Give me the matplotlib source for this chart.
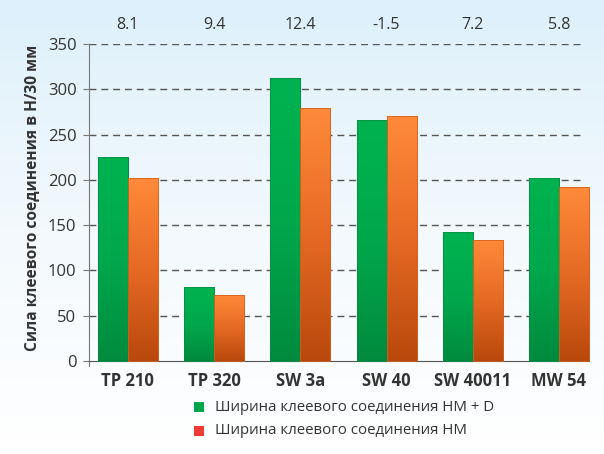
import numpy as np
import matplotlib.pyplot as plt
from matplotlib.patches import Rectangle
from matplotlib.colors import LinearSegmentedColormap

plt.rcParams['font.family'] = ['Open Sans', 'DejaVu Sans']

categories = ['TP 210', 'TP 320', 'SW 3a', 'SW 40', 'SW 40011', 'MW 54']
hm_d = [225, 82, 313, 266, 142, 202]
hm = [202, 73, 279, 271, 134, 192]
diff_labels = ['8.1', '9.4', '12.4', '-1.5', '7.2', '5.8']
series_names = ['Ширина клеевого соединения HM + D', 'Ширина клеевого соединения HM']

fig = plt.figure(figsize=(6.04, 4.54), dpi=100)

# background gradient, light blue on top to white
bg = fig.add_axes([0, 0, 1, 1], zorder=-10)
grad = np.linspace(0, 1, 256).reshape(-1, 1)
bg_cmap = LinearSegmentedColormap.from_list('bg', ['#ddf0fb', '#f3f9fd', '#ffffff'])
bg.imshow(grad, aspect='auto', cmap=bg_cmap, extent=[0, 1, 0, 1])
bg.axis('off')

ax = fig.add_axes([0.1474, 0.2048, 0.828, 0.6982])
ax.patch.set_alpha(0)

green_cmap = LinearSegmentedColormap.from_list('g', ['#008a3e', '#00a84c', '#00b350'])
orange_cmap = LinearSegmentedColormap.from_list('o', ['#b9480c', '#e56a24', '#ff8a3a'])

x = np.arange(len(categories))
w = 0.348
vgrad = np.linspace(0, 1, 256).reshape(-1, 1)

for xs, vals, cmap, edge in [(x - w / 2, hm_d, green_cmap, '#009040'),
                             (x + w / 2, hm, orange_cmap, '#d8601c')]:
    bars = ax.bar(xs, vals, width=w, facecolor='none', edgecolor=edge, linewidth=0.6,
                  zorder=3, clip_on=False)
    for b in bars:
        x0 = b.get_x()
        im = ax.imshow(vgrad, aspect='auto', cmap=cmap, origin='lower',
                       extent=[x0, x0 + b.get_width(), 0, b.get_height()], zorder=2)
        im.set_clip_path(b)
        im.set_clip_on(True)

ax.hlines(np.arange(50, 351, 50), -0.45, 5.28, colors='#555555', linestyles=(0, (5, 3.5)),
          linewidth=1.0, zorder=1)

ax.set_xlim(-0.45, 5.35)
ax.set_ylim(0, 350)
ax.set_yticks(np.arange(0, 351, 50))
ax.set_xticks(x)
ax.set_xticklabels(categories, fontweight='bold', fontsize=12, color='#333333')
ax.tick_params(axis='x', length=0, pad=8)
ax.tick_params(axis='y', length=4, color='#777777', labelsize=12, labelcolor='#333333', pad=5)
for s in ['top', 'right']:
    ax.spines[s].set_visible(False)
ax.spines['left'].set_color('#777777')
ax.spines['bottom'].set_color('#555555')
ax.spines['left'].set_bounds(-6, 350)
ax.set_ylabel('Сила клеевого соединения в Н/30 мм', fontweight='bold', fontsize=11.2,
              color='#333333')
ax.yaxis.set_label_coords(-0.096, 0.516)

for xi, t in zip(x, diff_labels):
    ax.text(xi, 1.06, t, transform=ax.get_xaxis_transform(), ha='center', va='center',
            fontsize=11.5, color='#333333')

# legend
lx = 0.3295
for i, (name, c) in enumerate(zip(series_names, ['#00a54c', '#f03a34'])):
    yy = 0.1035 - i * 0.0528
    fig.patches.append(Rectangle((lx - 0.008, yy - 0.011), 0.016, 0.022, transform=fig.transFigure,
                                 facecolor=c, edgecolor='none'))
    fig.text(0.356, yy, name, ha='left', va='center', fontsize=10.8, color='#333333')

fig.savefig('out.png', dpi=100)
